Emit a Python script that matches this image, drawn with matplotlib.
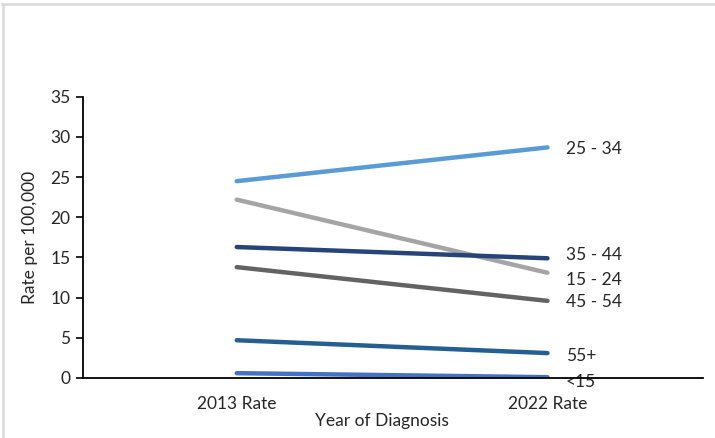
import matplotlib
matplotlib.use("Agg")
import matplotlib.pyplot as plt
from matplotlib.lines import Line2D

plt.rcParams['font.family'] = ['Lato', 'DejaVu Sans']

categories = ["2013 Rate", "2022 Rate"]
groups = ["25 - 34", "15 - 24", "35 - 44", "45 - 54", "55+", "<15"]
rate_2013 = [24.5, 22.2, 16.3, 13.8, 4.7, 0.6]
rate_2022 = [28.7, 13.1, 14.9, 9.6, 3.1, 0.1]
colors = ["#5B9BD5", "#A5A5A5", "#264478", "#636363", "#255E91", "#4472C4"]
label_offsets = [-0.2, -0.9, 0.4, -0.2, -0.4, -0.6]  # small vertical nudges (data units)
yticks = [0, 5, 10, 15, 20, 25, 30, 35]

text_color = "#262626"

fig = plt.figure(figsize=(7.15, 4.38), dpi=100)
ax = fig.add_axes([0.116, 0.137, 0.867, 0.642])

x = [0, 1]
for g, a, b, c, off in zip(groups, rate_2013, rate_2022, colors, label_offsets):
    ax.plot(x, [a, b], color=c, lw=3.2, solid_capstyle='round', zorder=3)
    ax.text(1.06, b + off, g, ha='left', va='center', fontsize=12.5, color=text_color, zorder=4)

ax.set_xlim(-0.495, 1.5)
ax.set_ylim(0, 35)
ax.set_yticks(yticks)
ax.set_xticks(x)
ax.set_xticklabels(categories)
ax.tick_params(axis='x', length=0, pad=13, labelsize=12.5, colors=text_color)
ax.tick_params(axis='y', length=5, width=1.2, direction='out', pad=4, labelsize=12.5, colors='black', labelcolor=text_color)

for s in ['top', 'right']:
    ax.spines[s].set_visible(False)
for s in ['left', 'bottom']:
    ax.spines[s].set_color('black')
    ax.spines[s].set_linewidth(1.3)
ax.spines['bottom'].set_zorder(5)

ax.set_ylabel("Rate per 100,000", fontsize=12.5, color=text_color, labelpad=9)
ax.set_xlabel("Year of Diagnosis", fontsize=12.5, color=text_color)
ax.xaxis.set_label_coords(0.482, -0.125)

# light grey chart frame (top and left edges visible)
fig.add_artist(Line2D([0.003, 1.0], [0.990, 0.990], transform=fig.transFigure, color='#D9D9D9', lw=1.8))
fig.add_artist(Line2D([0.004, 0.004], [0.0, 0.990], transform=fig.transFigure, color='#D9D9D9', lw=1.8))

fig.savefig("out.png", dpi=100, facecolor='white')
